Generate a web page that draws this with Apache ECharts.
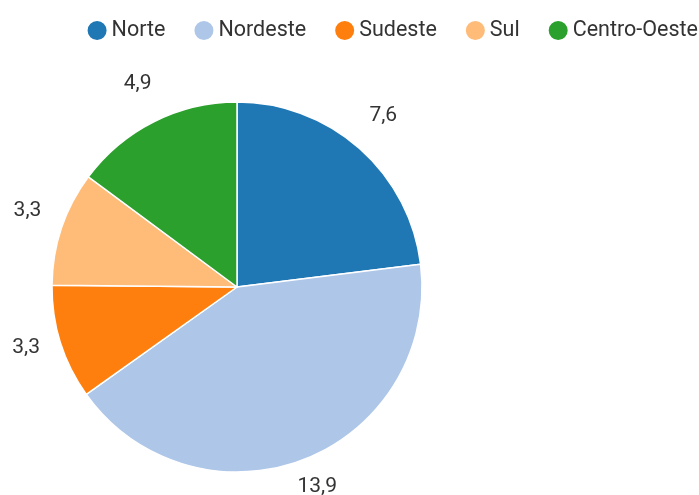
<!DOCTYPE html>
<html><head><meta charset="utf-8">
<script src="https://cdn.jsdelivr.net/npm/echarts@6/dist/echarts.min.js"></script>
<style>html,body{margin:0;padding:0;background:#fff}#c{width:699px;height:495px}</style>
</head><body><div id="c"></div>
<script>
const categories = ['Norte', 'Nordeste', 'Sudeste', 'Sul', 'Centro-Oeste'];
const values = [7.6, 13.9, 3.3, 3.3, 4.9];
const colors = ['#1f77b4', '#aec7e8', '#ff7f0e', '#ffbb78', '#2ca02c'];

const data = categories.map((n, i) => ({ name: n, value: values[i] }));
const fmt = p => String(p.value).replace('.', ',');
const chart = echarts.init(document.getElementById('c'));
chart.setOption({
  animation: false,
  color: colors,
  legend: {
    data: categories,
    top: 14,
    right: -4,
    icon: 'circle',
    itemWidth: 21,
    itemHeight: 21,
    itemGap: 27,
    textStyle: { fontFamily: 'Roboto', fontSize: 21.5, color: '#333', padding: [0, 0, 0, -1] }
  },
  series: [
    {
      type: 'pie',
      center: [237, 287],
      radius: [0, 185],
      startAngle: 90,
      clockwise: true,
      data: data,
      label: { show: false },
      labelLine: { show: false },
      itemStyle: { borderColor: '#fff', borderWidth: 1.5 }
    },
    {
      type: 'pie',
      center: [237, 287],
      radius: [196, 240],
      startAngle: 90,
      clockwise: true,
      silent: true,
      data: data,
      itemStyle: { color: 'rgba(0,0,0,0)' },
      label: { show: true, position: 'inside', formatter: fmt, fontFamily: 'Roboto', fontSize: 21, color: '#333', offset: [0, -6] },
      labelLine: { show: false },
      emphasis: { disabled: true }
    }
  ]
});
</script></body></html>
